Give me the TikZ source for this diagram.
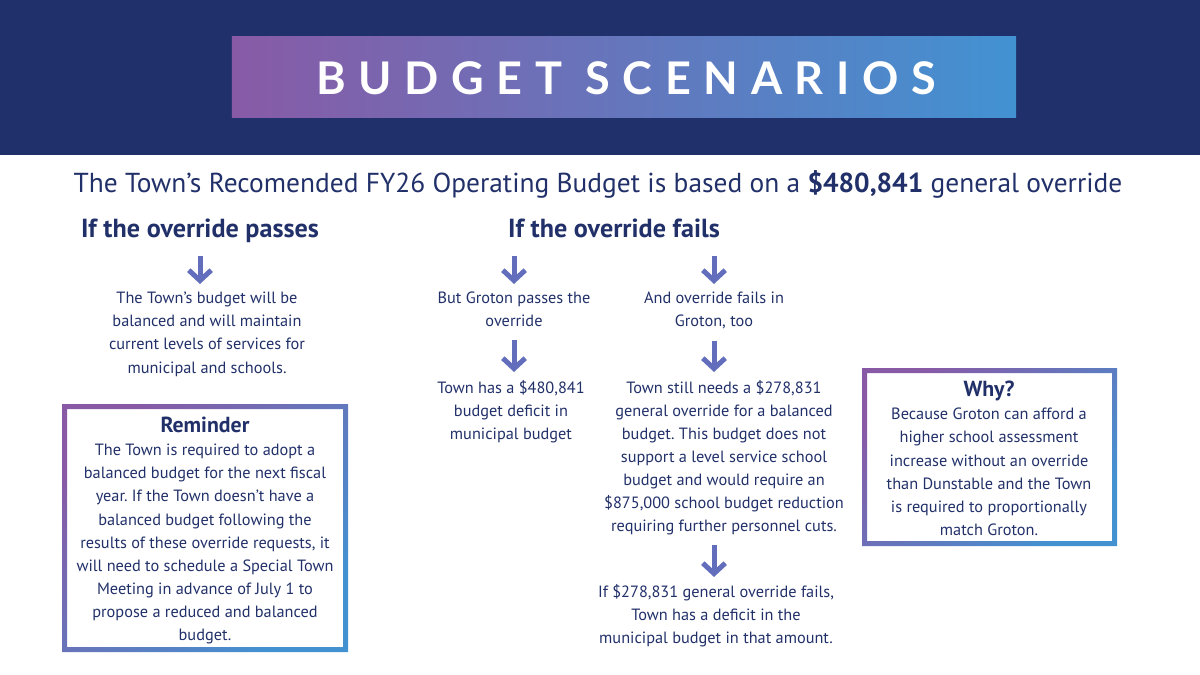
\documentclass[tikz,border=0pt]{standalone}
\usepackage{fontspec}
\setmainfont{PT Sans}
\newfontfamily\bannerfont[LetterSpace=28]{Lato}
\usetikzlibrary{arrows.meta}
\frenchspacing

\definecolor{navyband}{RGB}{32,48,107}
\definecolor{inktext}{RGB}{33,48,105}
\definecolor{gradpurple}{RGB}{136,90,166}
\definecolor{gradblue}{RGB}{66,146,210}
\definecolor{arrowink}{RGB}{98,110,188}

\tikzset{
  heading/.style={font=\fontsize{18.6}{22}\selectfont\bfseries, text=inktext, inner sep=0pt, anchor=base},
  bodytext/.style={font=\fontsize{11.6}{16.4}\selectfont, text=inktext, align=center, inner sep=0pt, anchor=north},
  flow/.style={draw=arrowink, line width=1.25mm, -{Straight Barb[length=2.6mm,width=5.6mm]}},
  gradframe/.style={top color=gradpurple, bottom color=gradblue, shading angle=45, even odd rule}
}

\begin{document}
\begin{tikzpicture}[x=0.025cm, y=-0.025cm]
    \useasboundingbox (0,0) rectangle (1200,675);

    % Banner
    \fill[navyband] (0,0) rectangle (1200,155);
    \node (banner) [left color=gradpurple, right color=gradblue, minimum width=19.6cm, minimum height=2cm, inner sep=0pt] at (624,77) {};
    \node (title) [anchor=base, text=white, font=\bannerfont\fontsize{32}{36}\selectfont\bfseries] at (626,95) {BUDGET SCENARIOS};

    \node (intro) [anchor=base, text=inktext, font=\fontsize{19.5}{22}\selectfont] at (598,193) {The Town’s Recomended FY26 Operating Budget is based on a \textbf{\$480,841} general override};

    % Headings
    \node (passhead) [heading] at (200,238) {If the override passes};
    \node (failhead) [heading] at (614,238) {If the override fails};

    % Texts
    \node (passtxt) [bodytext] at (207,292) {The Town’s budget will be\\balanced and will maintain\\current levels of services for\\municipal and schools.};
    \node (grotpass) [bodytext] at (514,292) {But Groton passes the\\override};
    \node (grotdef) [bodytext] at (511,380) {Town has a \$480,841\\budget deficit in\\municipal budget};
    \node (grotfail) [bodytext] at (714,292) {And override fails in\\Groton, too};
    \node (stillneed) [bodytext] at (724,380) {Town still needs a \$278,831\\general override for a balanced\\budget. This budget does not\\support a level service school\\budget and would require an\\\$875,000 school budget reduction\\requiring further personnel cuts.};
    \node (lastfail) [bodytext] at (716,584) {If \$278,831 general override fails,\\Town has a deficit in the\\municipal budget in that amount.};

    % Boxes
    \shade[gradframe] (62,404) rectangle (348,652) (67,409) rectangle (343,647);
    \node (remind) [bodytext] at (205,417) {{\fontsize{15.5}{16}\selectfont\bfseries Reminder}\\The Town is required to adopt a\\balanced budget for the next fiscal\\year. If the Town doesn’t have a\\balanced budget following the\\results of these override requests, it\\will need to schedule a Special Town\\Meeting in advance of July 1 to\\propose a reduced and balanced\\budget.};
    \shade[gradframe] (862,368) rectangle (1117,546) (867,373) rectangle (1112,541);
    \node (why) [bodytext] at (989,381) {{\fontsize{15.5}{16}\selectfont\bfseries Why?}\\Because Groton can afford a\\higher school assessment\\increase without an override\\than Dunstable and the Town\\is required to proportionally\\match Groton.};

    % Arrows
    \draw [flow, shorten <=12.8pt, shorten >=5.7pt] (passhead.base) -- (passhead.base |- passtxt.north);
    \draw [flow, shorten <=12.8pt, shorten >=5.7pt] (grotpass.north |- failhead.base) -- (grotpass.north);
    \draw [flow, shorten <=12.8pt, shorten >=5.7pt] (grotfail.north |- failhead.base) -- (grotfail.north);
    \draw [flow, shorten <=9.2pt, shorten >=5.7pt] (grotpass.south) -- (grotpass.south |- grotdef.north);
    \draw [flow, shorten <=7.8pt, shorten >=5.7pt] (grotfail.south) -- (grotfail.south |- stillneed.north);
    \draw [flow, shorten <=7pt, shorten >=5pt] (grotfail.south |- stillneed.south) -- (grotfail.south |- lastfail.north);

\end{tikzpicture}
\end{document}
